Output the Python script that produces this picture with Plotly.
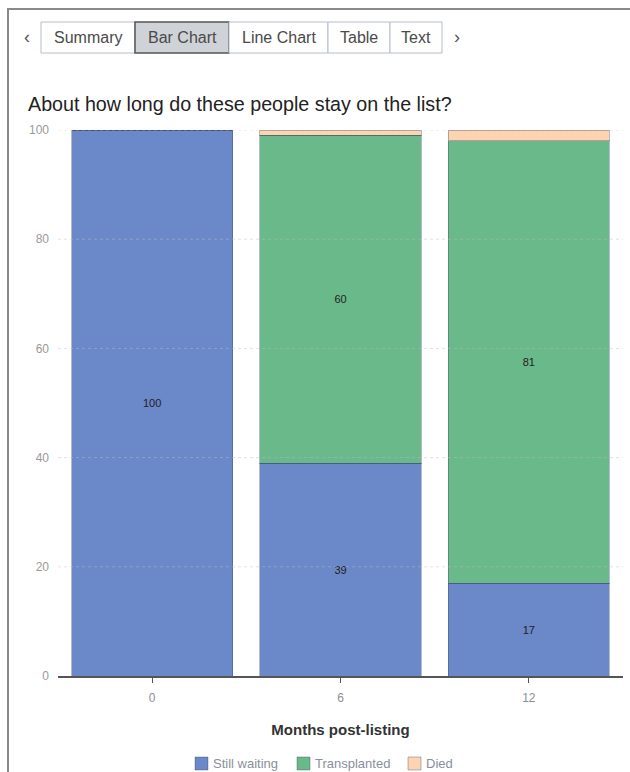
import plotly.graph_objects as go

months = ["0", "6", "12"]
still_waiting = [100, 39, 17]
transplanted = [0, 60, 81]
died = [0, 1, 2]
series_names = ["Still waiting", "Transplanted", "Died"]
y_ticks = [0, 20, 40, 60, 80, 100]
tab_labels = ["Summary", "Bar Chart", "Line Chart", "Table", "Text"]

W, H = 630, 772
L, R, T, B = 58, 7, 130, 96
PW, PH = W - L - R, H - T - B

def px(x):
    return (x - L) / PW

def py(y):
    return (H - B - y) / PH

colors = ["#6b88c8", "#6ab98a", "#fdd3b1"]
edge = dict(color="rgba(50,60,90,0.35)", width=1)

fig = go.Figure()
for name, vals, col, show_text in zip(series_names, [still_waiting, transplanted, died], colors, [True, True, False]):
    fig.add_trace(go.Bar(
        x=months, y=vals, name=name,
        marker=dict(color=col, line=edge),
        text=[str(v) if v else "" for v in vals] if show_text else None,
        textposition="inside" if show_text else "none",
        insidetextanchor="middle", textangle=0,
        textfont=dict(size=11, color="#222"),
        hoverinfo="x+y+name",
    ))

shapes = []
for t in y_ticks[1:]:
    shapes.append(dict(type="line", xref="paper", yref="y", x0=0, x1=1, y0=t, y1=t,
                       line=dict(color="rgba(190,190,190,0.45)", width=1, dash="dot"), layer="above"))
shapes.append(dict(type="line", xref="paper", yref="paper", x0=px(7), x1=px(640), y0=py(9), y1=py(9),
                   line=dict(color="#8a8a8a", width=2)))
shapes.append(dict(type="line", xref="paper", yref="paper", x0=px(8), x1=px(8), y0=py(9), y1=py(780),
                   line=dict(color="#8a8a8a", width=2)))

annotations = []
edges = [41, 135, 229, 328, 390, 442]
for i, lab in enumerate(tab_labels):
    sel = lab == "Bar Chart"
    shapes.append(dict(type="rect", xref="paper", yref="paper",
                       x0=px(edges[i]), x1=px(edges[i + 1]), y0=py(53), y1=py(22),
                       fillcolor="#cfd2d7" if sel else "white",
                       line=dict(color="#555" if sel else "#b5bccb", width=1.5 if sel else 1)))
    annotations.append(dict(xref="paper", yref="paper", x=px((edges[i] + edges[i + 1]) / 2), y=py(37.5),
                            text=lab, showarrow=False, xanchor="center", yanchor="middle",
                            font=dict(size=16, color="#4a4a4a")))
annotations.append(dict(xref="paper", yref="paper", x=px(27), y=py(37), text="‹", showarrow=False,
                        font=dict(size=18, color="#555"), xanchor="center", yanchor="middle"))
annotations.append(dict(xref="paper", yref="paper", x=px(457), y=py(37), text="›", showarrow=False,
                        font=dict(size=18, color="#555"), xanchor="center", yanchor="middle"))

legend_x = [195, 297, 408]
for name, col, lx in zip(series_names, colors, legend_x):
    shapes.append(dict(type="rect", xref="paper", yref="paper",
                       x0=px(lx), x1=px(lx + 13), y0=py(770), y1=py(757),
                       fillcolor=col, line=dict(color="rgba(50,60,90,0.35)", width=1)))
    annotations.append(dict(xref="paper", yref="paper", x=px(lx + 16), y=py(763.5), text=name,
                            showarrow=False, xanchor="left", yanchor="middle",
                            font=dict(size=13, color="#8a8f9c")))

fig.update_layout(
    width=W, height=H,
    margin=dict(l=L, r=R, t=T, b=B),
    paper_bgcolor="white", plot_bgcolor="white",
    font=dict(family="Liberation Sans, Arial, sans-serif", color="#333"),
    barmode="stack", bargap=0.145, showlegend=False,
    title=dict(text="About how long do these people stay on the list?", x=28 / W, xanchor="left",
               xref="container", y=1 - 104 / H, yref="container", yanchor="middle",
               font=dict(size=19.7, color="#222")),
    xaxis=dict(type="category", showline=True, linecolor="#555", linewidth=1.5,
               ticks="outside", tickcolor="#555", ticklen=5, ticklabelstandoff=5,
               tickfont=dict(size=12, color="#8a8f9c"),
               title=dict(text="<b>Months post-listing</b>", font=dict(size=15, color="#333"), standoff=20)),
    yaxis=dict(range=[0, 100], tickvals=y_ticks, showgrid=False, zeroline=False, showline=False,
               tickfont=dict(size=12, color="#999"), ticks="", ticklabelstandoff=8),
    shapes=shapes, annotations=annotations,
)

fig.write_html("out.html", config={"displayModeBar": False},
               post_script="document.body.style.margin='0';document.body.style.overflow='hidden';")
